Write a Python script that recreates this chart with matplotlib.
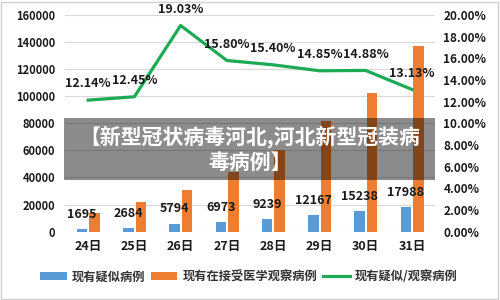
import matplotlib
matplotlib.use("Agg")
import matplotlib.pyplot as plt
import numpy as np
from matplotlib.patches import Rectangle

plt.rcParams['font.family'] = ['Noto Sans CJK SC', 'DejaVu Sans']

days = ["24日", "25日", "26日", "27日", "28日", "29日", "30日", "31日"]
suspected = [1695, 2684, 5794, 6973, 9239, 12167, 15238, 17988]
observed = [13967, 21556, 30453, 44132, 59990, 81947, 102427, 136987]
ratio = [12.14, 12.45, 19.03, 15.80, 15.40, 14.85, 14.88, 13.13]
left_ticks = [0, 20000, 40000, 60000, 80000, 100000, 120000, 140000, 160000]
right_ticks = [0, 2, 4, 6, 8, 10, 12, 14, 16, 18, 20]
legend_labels = ["现有疑似病例", "现有在接受医学观察病例", "现有疑似/观察病例"]
overlay_text = "【新型冠状病毒河北,河北新型冠装病\n毒病例】"

BLUE = "#5B9BD5"
ORANGE = "#ED7D31"
GREEN = "#1DAA55"
TXT = "#1a1a1a"

fig = plt.figure(figsize=(5, 3), dpi=100)
ax = fig.add_axes([0.13, 0.228, 0.74, 0.722])
x = np.arange(len(days))
w = 0.23
b1 = ax.bar(x - 0.13, suspected, w, color=BLUE, zorder=2, label=legend_labels[0])
b2 = ax.bar(x + 0.14, observed, w, color=ORANGE, zorder=2, label=legend_labels[1])
ax.set_ylim(0, 160000)
ax.set_xlim(-0.5, len(days) - 0.5)
ax.set_yticks(left_ticks)
ax.set_yticklabels([str(v) for v in left_ticks], fontsize=8, fontweight='bold', color=TXT)
ax.set_xticks(x)
ax.set_xticklabels(days, fontsize=9, fontweight='bold', color=TXT)
ax.tick_params(length=0, pad=7)
ax.tick_params(axis='x', pad=6)
ax.grid(axis='y', color='#d9d9d9', linewidth=0.8, zorder=0)
for s in ax.spines.values():
    s.set_visible(False)
for xi, v in zip(x, suspected):
    ax.annotate(str(v), (xi - 0.13, v), xytext=(0, 6), textcoords='offset points',
                ha='center', va='bottom', fontsize=9, fontweight='bold', color=TXT, zorder=5)

ax2 = ax.twinx()
ax2.set_ylim(0, 20)
ln, = ax2.plot(x, ratio, color=GREEN, linewidth=2.3, zorder=3, label=legend_labels[2])
ax2.set_yticks(right_ticks)
ax2.set_yticklabels([f"{v:.2f}%" for v in right_ticks], fontsize=8.5, fontweight='bold', color=TXT)
ax2.tick_params(length=0, pad=6)
for s in ax2.spines.values():
    s.set_visible(False)
for xi, v in zip(x, ratio):
    ax2.annotate(f"{v:.2f}%", (xi, v), xytext=(0, 7), textcoords='offset points',
                 ha='center', va='bottom', fontsize=9, fontweight='bold', color=TXT, zorder=5)

fig.legend(handles=[b1, b2, ln], labels=legend_labels, loc='center', bbox_to_anchor=(0.497, 0.077),
           ncol=3, frameon=False, prop={'size': 8.8, 'weight': 'bold'}, handlelength=2.2,
           handletextpad=0.4, columnspacing=0.45, labelcolor='#333333')

# overlay band with caption
fig.patches.append(Rectangle((0.128, 0.40), 0.742, 0.207, transform=fig.transFigure,
                             facecolor='black', alpha=0.45, edgecolor='none', zorder=10))
fig.text(0.5, 0.503, overlay_text, ha='center', va='center', fontsize=15, fontweight='bold',
         color='white', linespacing=1.2, zorder=11)

# outer frame
fig.patches.append(Rectangle((0.002, 0.005), 0.994, 0.99, transform=fig.transFigure,
                             facecolor='none', edgecolor='#d0d0d0', linewidth=1.0, zorder=0))

fig.savefig("out.png", dpi=100)
